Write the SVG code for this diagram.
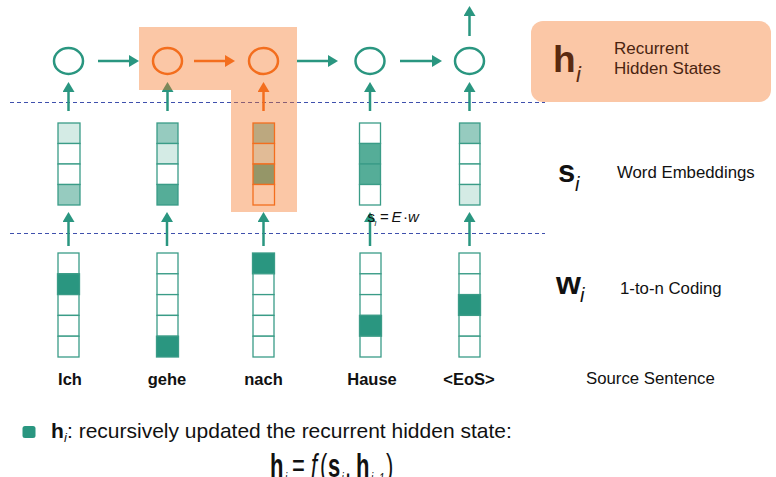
<svg xmlns="http://www.w3.org/2000/svg" width="776" height="477" viewBox="0 0 776 477">
<defs>
<style>
.t{font-family:"Liberation Sans",Arial,sans-serif}
.b{font-weight:bold}
.it{font-style:italic}
.circ{fill:none;stroke-width:2.5}
.teal{stroke:#2a9680}
.org{stroke:#f26b1d}
.cell{stroke:#3a9c87;stroke-width:1.3}
.cello{stroke:#f26b1d;stroke-width:1.3}
.w0{fill:#ffffff}
.lt{fill:#d4ebe5}
.md{fill:#96cbbf}
.dk{fill:#55ad98}
.on{fill:#2a9680}
.dash{stroke:#3f50ad;stroke-width:1;stroke-dasharray:4 3;fill:none}
.ln{fill:none;stroke-width:2.5}
.lbl{font-size:16.5px;fill:#111}
.rl{font-size:16.8px;fill:#111}
.brn{fill:#4a2410}
</style>
<marker id="aT" viewBox="0 0 10 12" refX="4" refY="6" markerWidth="10" markerHeight="12" markerUnits="userSpaceOnUse" orient="auto"><path d="M0,0 L10,6 L0,12 z" fill="#2a9680"/></marker>
<marker id="aO" viewBox="0 0 10 12" refX="4" refY="6" markerWidth="10" markerHeight="12" markerUnits="userSpaceOnUse" orient="auto"><path d="M0,0 L10,6 L0,12 z" fill="#f26b1d"/></marker>
</defs>
<rect width="776" height="477" fill="#ffffff"/>
<g id="separators">
<line class="dash" x1="10" y1="102.5" x2="545" y2="102.5"/>
<line class="dash" x1="10" y1="233.5" x2="545" y2="233.5"/>
</g>
<g id="w1">
<rect class="cell w0" x="58" y="253" width="21" height="20.8"/>
<rect class="cell on" x="57.5" y="273.8" width="22" height="20.8"/>
<rect class="cell w0" x="58" y="294.6" width="21" height="20.8"/>
<rect class="cell w0" x="58" y="315.4" width="21" height="20.8"/>
<rect class="cell w0" x="58" y="336.2" width="21" height="20.8"/>
</g>
<g id="w2">
<rect class="cell w0" x="157" y="253" width="21" height="20.8"/>
<rect class="cell w0" x="157" y="273.8" width="21" height="20.8"/>
<rect class="cell w0" x="157" y="294.6" width="21" height="20.8"/>
<rect class="cell w0" x="157" y="315.4" width="21" height="20.8"/>
<rect class="cell on" x="156.5" y="336.2" width="22" height="20.8"/>
</g>
<g id="w3">
<rect class="cell on" x="252.5" y="253" width="22" height="20.8"/>
<rect class="cell w0" x="253" y="273.8" width="21" height="20.8"/>
<rect class="cell w0" x="253" y="294.6" width="21" height="20.8"/>
<rect class="cell w0" x="253" y="315.4" width="21" height="20.8"/>
<rect class="cell w0" x="253" y="336.2" width="21" height="20.8"/>
</g>
<g id="w4">
<rect class="cell w0" x="360" y="253" width="21" height="20.8"/>
<rect class="cell w0" x="360" y="273.8" width="21" height="20.8"/>
<rect class="cell w0" x="360" y="294.6" width="21" height="20.8"/>
<rect class="cell on" x="359.5" y="315.4" width="22" height="20.8"/>
<rect class="cell w0" x="360" y="336.2" width="21" height="20.8"/>
</g>
<g id="w5">
<rect class="cell w0" x="459" y="253" width="21" height="20.8"/>
<rect class="cell w0" x="459" y="273.8" width="21" height="20.8"/>
<rect class="cell on" x="458.5" y="294.6" width="22" height="20.8"/>
<rect class="cell w0" x="459" y="315.4" width="21" height="20.8"/>
<rect class="cell w0" x="459" y="336.2" width="21" height="20.8"/>
</g>
<g id="s1">
<rect class="cell lt" x="58" y="123" width="22" height="20.5"/>
<rect class="cell w0" x="58" y="143.5" width="22" height="20.5"/>
<rect class="cell w0" x="58" y="164" width="22" height="20.5"/>
<rect class="cell md" x="58" y="184.5" width="22" height="20.5"/>
</g>
<g id="s2">
<rect class="cell md" x="157" y="123" width="21" height="20.5"/>
<rect class="cell lt" x="157" y="143.5" width="21" height="20.5"/>
<rect class="cell w0" x="157" y="164" width="21" height="20.5"/>
<rect class="cell dk" x="157" y="184.5" width="21" height="20.5"/>
</g>
<g id="s3">
<rect class="cello md" x="253" y="123" width="21.5" height="20.5"/>
<rect class="cello lt" x="253" y="143.5" width="21.5" height="20.5"/>
<rect class="cello dk" x="253" y="164" width="21.5" height="20.5"/>
<rect class="cello w0" x="253" y="184.5" width="21.5" height="20.5"/>
</g>
<g id="s4">
<rect class="cell w0" x="359.5" y="123" width="21" height="20.5"/>
<rect class="cell dk" x="359.5" y="143.5" width="21" height="20.5"/>
<rect class="cell dk" x="359.5" y="164" width="21" height="20.5"/>
<rect class="cell w0" x="359.5" y="184.5" width="21" height="20.5"/>
</g>
<g id="s5">
<rect class="cell md" x="459.5" y="123" width="20.5" height="20.5"/>
<rect class="cell w0" x="459.5" y="143.5" width="20.5" height="20.5"/>
<rect class="cell w0" x="459.5" y="164" width="20.5" height="20.5"/>
<rect class="cell lt" x="459.5" y="184.5" width="20.5" height="20.5"/>
</g>
<g id="h1"><ellipse class="circ teal" cx="68.5" cy="61" rx="14.5" ry="13"/></g>
<g id="h2"><ellipse class="circ org" cx="167.5" cy="61" rx="14.5" ry="13"/></g>
<g id="h3"><ellipse class="circ org" cx="263.5" cy="61" rx="14.5" ry="13"/></g>
<g id="h4"><ellipse class="circ teal" cx="370" cy="61" rx="14.5" ry="13"/></g>
<g id="h5"><ellipse class="circ teal" cx="469.5" cy="61" rx="14.5" ry="13"/></g>
<g id="connectors">
<line class="ln teal" x1="98" y1="61" x2="133" y2="61" marker-end="url(#aT)"/>
<line class="ln org" x1="194" y1="61" x2="229" y2="61" marker-end="url(#aO)"/>
<line class="ln teal" x1="297" y1="61" x2="332" y2="61" marker-end="url(#aT)"/>
<line class="ln teal" x1="400" y1="61" x2="436" y2="61" marker-end="url(#aT)"/>
<line class="ln teal" x1="469.5" y1="36" x2="469.5" y2="12" marker-end="url(#aT)"/>
<line class="ln teal" x1="68.5" y1="111" x2="68.5" y2="88" marker-end="url(#aT)"/>
<line class="ln teal" x1="167.5" y1="111" x2="167.5" y2="88" marker-end="url(#aT)"/>
<line class="ln org" x1="263.5" y1="111" x2="263.5" y2="88" marker-end="url(#aO)"/>
<line class="ln teal" x1="370" y1="111" x2="370" y2="88" marker-end="url(#aT)"/>
<line class="ln teal" x1="469.5" y1="111" x2="469.5" y2="88" marker-end="url(#aT)"/>
<line class="ln teal" x1="68.5" y1="246" x2="68.5" y2="218" marker-end="url(#aT)"/>
<line class="ln teal" x1="167" y1="246" x2="167" y2="218" marker-end="url(#aT)"/>
<line class="ln teal" x1="263.5" y1="246" x2="263.5" y2="218" marker-end="url(#aT)"/>
<line class="ln teal" x1="370" y1="246" x2="370" y2="218" marker-end="url(#aT)"/>
<line class="ln teal" x1="469.5" y1="246" x2="469.5" y2="218" marker-end="url(#aT)"/>
</g>
<g id="highlight">
<path d="M139,27 H297 V212 H231 V90 H139 Z" fill="#f47420" fill-opacity="0.4"/>
</g>
<g id="eq-embed" class="t">
<text x="367.5" y="222" font-size="15" fill="#111">s</text>
<text x="374.5" y="226" font-size="8" class="it" fill="#111">i</text>
<text y="222" font-size="15" fill="#111"><tspan x="380">=</tspan><tspan x="391.5" class="it">E</tspan><tspan x="403">·</tspan><tspan x="408" class="it">w</tspan></text>
</g>
<g id="legend-h">
<rect x="531" y="21" width="240" height="81" rx="12" fill="#fbc7a6"/>
<text class="t b" x="553" y="72" font-size="37" fill="#5a2a10">h</text>
<text class="t it" x="576" y="82" font-size="22" fill="#5a2a10">i</text>
<text class="t brn" x="614" y="54" font-size="17">Recurrent</text>
<text class="t brn" x="614" y="74" font-size="17">Hidden States</text>
</g>
<g id="legend-s">
<text class="t b" x="558" y="182" font-size="31" fill="#111">s</text>
<text class="t it" x="575" y="191" font-size="20" fill="#111">i</text>
<text class="t rl" x="617" y="178">Word Embeddings</text>
</g>
<g id="legend-w">
<text class="t b" x="556" y="294" font-size="32" fill="#111">w</text>
<text class="t it" x="580" y="302" font-size="20" fill="#111">i</text>
<text class="t rl" x="620" y="294">1-to-n Coding</text>
</g>
<g id="legend-src">
<text class="t rl" x="586" y="384">Source Sentence</text>
</g>
<g id="words" class="t b lbl" text-anchor="middle">
<text x="70" y="385">Ich</text>
<text x="167" y="385">gehe</text>
<text x="263.5" y="385">nach</text>
<text x="372" y="385">Hause</text>
<text x="469" y="385">&lt;EoS&gt;</text>
</g>
<g id="note" class="t" fill="#111">
<rect x="22.5" y="426" width="13" height="12" rx="2.5" fill="#2a9680"/>
<text x="51" y="438" font-size="21" class="b">h</text>
<text x="64" y="442" font-size="13" class="it">i</text>
<text x="67" y="438" font-size="21">: recursively updated the recurrent hidden state:</text>
<g transform="translate(0,477) scale(1,1.5)">
<text y="0" font-size="22"><tspan x="270" class="b">h</tspan><tspan x="285" class="it" font-size="10" dy="4">i</tspan><tspan x="292" dy="-4">=</tspan><tspan x="311" class="it">f</tspan><tspan x="320">(</tspan><tspan x="328" class="b">s</tspan><tspan x="341.5" class="it" font-size="10" dy="4">i</tspan><tspan x="345" dy="-4">,</tspan><tspan x="356" class="b">h</tspan><tspan x="371" class="it" font-size="10" dy="4">i−1</tspan><tspan x="386" dy="-4">)</tspan></text>
</g>
</g>
</svg>
